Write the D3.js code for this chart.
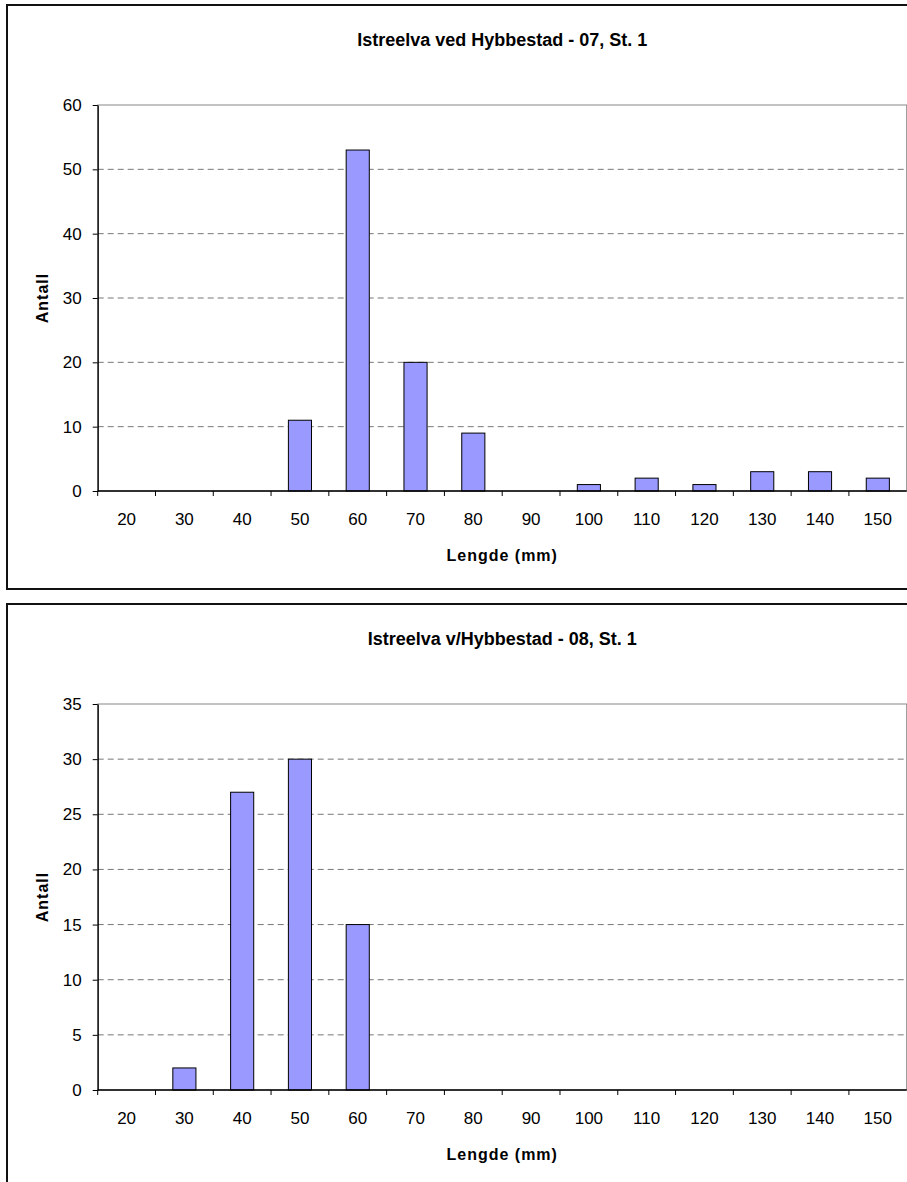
<!DOCTYPE html>
<html>
<head>
<meta charset="utf-8">
<script src="https://cdn.jsdelivr.net/npm/d3@7"></script>
<style>
  body { margin: 0; background: #fff; }
  svg { display: block; }
</style>
</head>
<body>
<div id="svg-container"></div>
<script>
// length classes (mm) shared by both charts
var categories = ["20", "30", "40", "50", "60", "70", "80", "90", "100", "110", "120", "130", "140", "150"];

// counts per length class
var counts07 = [0, 0, 0, 11, 53, 20, 9, 0, 1, 2, 1, 3, 3, 2];
var counts08 = [0, 2, 27, 30, 15, 0, 0, 0, 0, 0, 0, 0, 0, 0];

var ticks07 = [0, 10, 20, 30, 40, 50, 60];
var ticks08 = [0, 5, 10, 15, 20, 25, 30, 35];

var titles = ["Istreelva ved Hybbestad - 07, St. 1", "Istreelva v/Hybbestad - 08, St. 1"];

var width = 907,
    height = 1182;

var svg = d3.select("#svg-container")
  .append("svg")
    .attr("width", width)
    .attr("height", height)
    .attr("font-family", "'Liberation Sans', Arial, sans-serif");

function drawChart(top, title, values, yTicks) {
  var frameH = 584,
      left = 97.7,
      right = 906.7,
      plotTop = top + 100,
      plotBottom = top + 486;

  var g = svg.append("g");

  // chart frame
  g.append("rect")
      .attr("x", 7)
      .attr("y", top)
      .attr("width", 940)
      .attr("height", frameH)
      .attr("fill", "none")
      .attr("stroke", "#111")
      .attr("stroke-width", 2);

  var x = d3.scaleBand()
      .domain(categories)
      .range([left, right])
      .paddingInner(0.6)
      .paddingOuter(0.3);

  var slot = d3.scaleBand()
      .domain(categories)
      .range([left, right])
      .padding(0);

  var y = d3.scaleLinear()
      .domain([0, d3.max(yTicks)])
      .range([plotBottom, plotTop]);

  // dashed gridlines
  g.selectAll(".grid")
    .data(yTicks.slice(1, -1))
    .enter().append("line")
      .attr("x1", left)
      .attr("x2", right)
      .attr("y1", function(d) { return y(d); })
      .attr("y2", function(d) { return y(d); })
      .attr("stroke", "#777")
      .attr("stroke-width", 1)
      .attr("stroke-dasharray", "6,4");

  // plot area border
  g.append("rect")
      .attr("x", left)
      .attr("y", plotTop)
      .attr("width", right - left)
      .attr("height", plotBottom - plotTop)
      .attr("fill", "none")
      .attr("stroke", "#888")
      .attr("stroke-width", 1);

  // bars
  g.selectAll(".bar")
    .data(values.map(function(v, i) { return {cat: categories[i], value: v}; })
      .filter(function(d) { return d.value > 0; }))
    .enter().append("rect")
      .attr("class", "bar")
      .attr("x", function(d) { return x(d.cat); })
      .attr("y", function(d) { return y(d.value); })
      .attr("width", x.bandwidth())
      .attr("height", function(d) { return y(0) - y(d.value); })
      .attr("fill", "#9999ff")
      .attr("stroke", "#000")
      .attr("stroke-width", 1);

  // y axis
  var yAxis = g.append("g")
      .attr("transform", "translate(" + left + ",0)")
      .call(d3.axisLeft(y).tickValues(yTicks).tickSize(5).tickPadding(11).tickSizeOuter(0));
  yAxis.select(".domain").attr("stroke", "#000").attr("stroke-width", 1.3);
  yAxis.selectAll(".tick line").attr("stroke", "#000");
  yAxis.selectAll("text")
      .attr("font-size", 17)
      .attr("font-family", "'Liberation Sans', Arial, sans-serif")
      .attr("fill", "#000");

  // x axis line and boundary ticks
  g.append("line")
      .attr("x1", left)
      .attr("x2", right)
      .attr("y1", plotBottom)
      .attr("y2", plotBottom)
      .attr("stroke", "#000")
      .attr("stroke-width", 1.3);

  g.selectAll(".xtick")
    .data(categories)
    .enter().append("line")
      .attr("x1", function(d) { return slot(d); })
      .attr("x2", function(d) { return slot(d); })
      .attr("y1", plotBottom)
      .attr("y2", plotBottom + 5)
      .attr("stroke", "#000");

  g.selectAll(".xlabel")
    .data(categories)
    .enter().append("text")
      .attr("x", function(d) { return slot(d) + slot.bandwidth() / 2; })
      .attr("y", plotBottom + 28)
      .attr("dy", "0.35em")
      .attr("text-anchor", "middle")
      .attr("font-size", 17)
      .text(function(d) { return d; });

  // titles
  g.append("text")
      .attr("x", (left + right) / 2)
      .attr("y", top + 35)
      .attr("dy", "0.35em")
      .attr("text-anchor", "middle")
      .attr("font-size", 18)
      .attr("font-weight", "bold")
      .text(title);

  g.append("text")
      .attr("x", (left + right) / 2)
      .attr("y", plotBottom + 64)
      .attr("dy", "0.35em")
      .attr("text-anchor", "middle")
      .attr("font-size", 16)
      .attr("font-weight", "bold")
      .attr("letter-spacing", 1)
      .text("Lengde (mm)");

  g.append("text")
      .attr("transform", "translate(42," + ((plotTop + plotBottom) / 2) + ") rotate(-90)")
      .attr("dy", "0.35em")
      .attr("text-anchor", "middle")
      .attr("font-size", 16)
      .attr("font-weight", "bold")
      .attr("letter-spacing", 1)
      .text("Antall");
}

drawChart(5, titles[0], counts07, ticks07);
drawChart(604, titles[1], counts08, ticks08);
</script>
</body>
</html>
